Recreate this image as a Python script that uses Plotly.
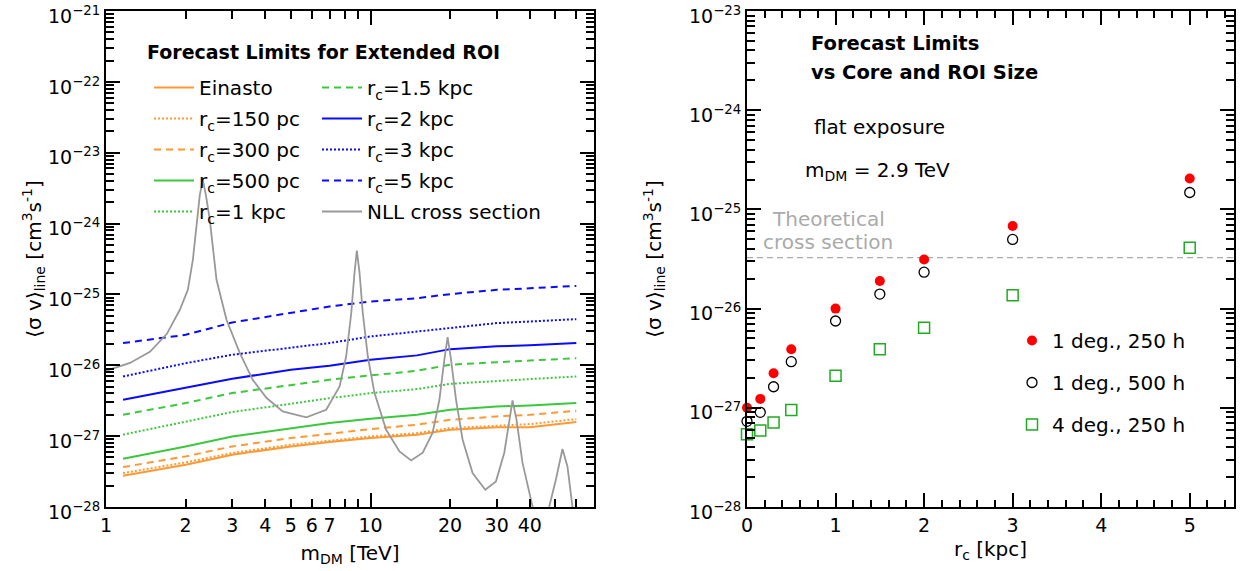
import plotly.graph_objects as go

# ---------------- left panel: forecast limits vs DM mass ----------------
m_dm = [1.16, 2, 3, 5, 7, 10, 15, 20, 30, 40, 60]

sv_einasto = [2.77e-28, 3.95e-28, 5.47e-28, 7.16e-28, 8.24e-28, 9.40e-28, 1.05e-27, 1.23e-27, 1.34e-27, 1.34e-27, 1.58e-27]
sv_rc150pc = [3.01e-28, 4.26e-28, 5.77e-28, 7.57e-28, 8.61e-28, 9.91e-28, 1.10e-27, 1.30e-27, 1.40e-27, 1.48e-27, 1.74e-27]
sv_rc300pc = [3.66e-28, 5.18e-28, 7.16e-28, 9.40e-28, 1.08e-27, 1.26e-27, 1.45e-27, 1.70e-27, 1.90e-27, 2.00e-27, 2.28e-27]
sv_rc500pc = [4.80e-28, 7.16e-28, 9.91e-28, 1.30e-27, 1.53e-27, 1.76e-27, 2.00e-27, 2.36e-27, 2.62e-27, 2.71e-27, 2.93e-27]
sv_rc1kpc = [1.05e-27, 1.58e-27, 2.19e-27, 2.86e-27, 3.44e-27, 4.05e-27, 4.61e-27, 5.48e-27, 6.04e-27, 6.38e-27, 6.95e-27]
sv_rc1p5kpc = [2.00e-27, 2.93e-27, 4.05e-27, 5.31e-27, 6.25e-27, 7.19e-27, 8.36e-27, 1.02e-26, 1.10e-26, 1.16e-26, 1.26e-26]
sv_rc2kpc = [3.26e-27, 4.76e-27, 6.45e-27, 8.65e-27, 9.84e-27, 1.20e-26, 1.38e-26, 1.69e-26, 1.85e-26, 1.91e-26, 2.06e-26]
sv_rc3kpc = [6.95e-27, 1.07e-26, 1.41e-26, 1.75e-26, 2.06e-26, 2.55e-26, 3.00e-26, 3.34e-26, 3.94e-26, 4.15e-26, 4.48e-26]
sv_rc5kpc = [2.06e-26, 2.69e-26, 4.02e-26, 5.44e-26, 6.76e-26, 7.94e-26, 8.85e-26, 1.01e-25, 1.16e-25, 1.22e-25, 1.32e-25]

# NLL (Sommerfeld-resonant) line cross section
m_nll = [1.0, 1.232, 1.466, 1.699, 1.902, 2.039, 2.130, 2.205, 2.263, 2.323, 2.385, 2.469,
         2.617, 2.855, 3.204, 3.587, 4.04, 4.655, 5.72, 6.80, 7.64, 8.09, 8.46, 8.70,
         8.88, 9.09, 9.35, 9.77, 10.35, 11.46, 12.87, 14.24, 15.76, 17.18, 18.22, 19.02,
         19.57, 20.16, 21.06, 22.30, 24.32, 27.16, 29.81, 32.05, 33.46, 34.43, 35.66, 37.55,
         40.98, 43.8, 47.38, 50.21, 53.19, 55.54, 58.0, 60.4]
sv_nll = [8.36e-27, 1.08e-26, 1.55e-26, 2.78e-26, 6.07e-26, 1.16e-25, 3.08e-25, 9.6e-25, 2.54e-24, 4.13e-24, 2.54e-24, 1.13e-24,
          1.61e-25, 4.38e-26, 1.50e-26, 6.24e-27, 3.48e-27, 2.23e-27, 1.84e-27, 2.36e-27, 5.02e-27, 1.33e-26, 5.51e-26, 2.02e-25,
          4.16e-25, 2.02e-25, 5.51e-26, 1.33e-26, 4.09e-27, 1.23e-27, 6.08e-28, 4.54e-28, 5.83e-28, 1.12e-27, 3.26e-27, 1.20e-26,
          2.50e-26, 1.20e-26, 3.26e-27, 8.9e-28, 3.02e-28, 1.75e-28, 2.30e-28, 5.83e-28, 1.70e-27, 3.19e-27, 1.70e-27, 4.22e-28,
          1.02e-28, 4.07e-29, 1.01e-28, 2.43e-28, 6.58e-28, 3.74e-28, 1.02e-28, 3.46e-29]

# ---------------- right panel: limits vs core radius ----------------
r_core = [0, 0.15, 0.3, 0.5, 1, 1.5, 2, 3, 5]
sv_1deg_250h = [1.0e-27, 1.23e-27, 2.23e-27, 3.9e-27, 1.0e-26, 1.9e-26, 3.13e-26, 6.8e-26, 2.05e-25]
sv_1deg_500h = [7.3e-28, 9.0e-28, 1.63e-27, 2.92e-27, 7.5e-27, 1.4e-26, 2.33e-26, 4.98e-26, 1.48e-25]
sv_4deg_250h = [5.4e-28, 5.9e-28, 7.1e-28, 9.5e-28, 2.1e-27, 3.9e-27, 6.4e-27, 1.36e-26, 4.1e-26]
sv_theory = 3.26e-26
r_range = [0, 5.5]

# axis tick labels
mass_ticks = [1, 2, 3, 4, 5, 6, 7, 8, 9, 10, 20, 30, 40, 50, 60]
mass_labels = ["1", "2", "3", "4", "5", "6", "7", "", "", "10", "20", "30", "40", "", ""]
left_decades = list(range(-28, -20))
right_decades = list(range(-28, -22))

ORANGE = "#ff9933"
GREEN = "#3cc83c"
BLUE = "#0a0aff"
GREY = "#999999"
FONT = "DejaVu Sans, Liberation Sans, Arial, sans-serif"

fig = go.Figure()

left_series = [
    ("Einasto", sv_einasto, ORANGE, "solid", "legend", 1),
    ("r<sub>c</sub>=150 pc", sv_rc150pc, ORANGE, "2px,2px", "legend", 2),
    ("r<sub>c</sub>=300 pc", sv_rc300pc, ORANGE, "7px,5px", "legend", 3),
    ("r<sub>c</sub>=500 pc", sv_rc500pc, GREEN, "solid", "legend", 4),
    ("r<sub>c</sub>=1 kpc", sv_rc1kpc, GREEN, "2px,2px", "legend", 5),
    ("r<sub>c</sub>=1.5 kpc", sv_rc1p5kpc, GREEN, "7px,5px", "legend2", 1),
    ("r<sub>c</sub>=2 kpc", sv_rc2kpc, BLUE, "solid", "legend2", 2),
    ("r<sub>c</sub>=3 kpc", sv_rc3kpc, BLUE, "2px,2px", "legend2", 3),
    ("r<sub>c</sub>=5 kpc", sv_rc5kpc, BLUE, "7px,5px", "legend2", 4),
]
for i, (name, vals, col, dash, leg, rank) in enumerate(left_series):
    fig.add_trace(go.Scatter(
        x=m_dm, y=vals, mode="lines", name=name,
        line=dict(color=col, width=2, dash=dash),
        xaxis="x", yaxis="y", legend=leg, legendgroup=f"g{i}", legendrank=rank,
    ))

fig.add_trace(go.Scatter(
    x=m_nll, y=sv_nll, mode="lines", name="NLL cross section",
    line=dict(color=GREY, width=1.8),
    xaxis="x", yaxis="y", legend="legend2", legendgroup="gnll", legendrank=5,
))

# theoretical cross section reference line
fig.add_trace(go.Scatter(
    x=r_range, y=[sv_theory, sv_theory], mode="lines", showlegend=False,
    line=dict(color="#aaaaaa", width=1.3, dash="6px,4px"),
    xaxis="x2", yaxis="y2",
))

right_series = [
    ("1 deg., 250 h", sv_1deg_250h, dict(symbol="circle", size=10, color="#ff0000")),
    ("1 deg., 500 h", sv_1deg_500h, dict(symbol="circle-open", size=10, color="black", line=dict(width=1.3))),
    ("4 deg., 250 h", sv_4deg_250h, dict(symbol="square-open", size=11, color="#22aa22", line=dict(width=1.5))),
]
for i, (name, vals, mk) in enumerate(right_series):
    fig.add_trace(go.Scatter(
        x=r_core, y=vals, mode="markers", name=name, marker=mk,
        cliponaxis=False, xaxis="x2", yaxis="y2",
        legend="legend3", legendgroup=f"r{i}",
    ))

W, H = 1244, 571
xl0, xl1 = 106 / W, 594 / W
xr0, xr1 = 747 / W, 1234 / W
yb, yt = (H - 507) / H, (H - 11) / H

axis_common = dict(
    showline=True, linecolor="black", linewidth=2, mirror="allticks",
    ticks="inside", tickcolor="black", tickwidth=1.5,
    showgrid=False, zeroline=False, automargin=False, ticklabeloverflow="allow",
    tickfont=dict(family=FONT, size=19, color="black"),
)


def log_minor(lo, hi):
    return [k * 10.0 ** e for e in range(lo, hi) for k in range(2, 10)]


def decade_axis(decades):
    return dict(
        tickmode="array",
        tickvals=[10.0 ** e for e in decades],
        ticktext=[f"10<sup>\u2212{-e}</sup>" for e in decades],
        ticklabelshift=5,
        minor=dict(tickmode="array", tickvals=log_minor(decades[0], decades[-1]),
                   ticks="inside", ticklen=8, tickwidth=1.5, tickcolor="black",
                   showgrid=False),
    )


ytitle = "\u27e8\u03c3 v\u27e9<sub>line</sub> [cm<sup>3</sup>s<sup>-1</sup>]"

fig.update_layout(
    width=W, height=H,
    margin=dict(l=0, r=0, t=0, b=0),
    paper_bgcolor="white", plot_bgcolor="white",
    font=dict(family=FONT, size=20, color="black"),
    xaxis=dict(
        axis_common, type="log", domain=[xl0, xl1], range=[0, 1.845], anchor="y",
        tickmode="array", tickvals=mass_ticks, ticktext=mass_labels, ticklen=8,
        minor=dict(tickmode="array", tickvals=[1, 10], ticks="inside", ticklen=14,
                   tickwidth=1.5, tickcolor="black", showgrid=False),
        title=dict(text="m<sub>DM</sub> [TeV]", font=dict(size=20), standoff=11),
    ),
    yaxis=dict(
        axis_common, type="log", domain=[yb, yt], range=[-28, -20.9999], anchor="x",
        ticklen=14, **decade_axis(left_decades),
        title=dict(text=ytitle, font=dict(size=20), standoff=1),
    ),
    xaxis2=dict(
        axis_common, domain=[xr0, xr1], range=r_range, anchor="y2",
        dtick=1, tick0=0, ticklen=14,
        minor=dict(dtick=0.2, ticks="inside", ticklen=7, tickwidth=1.5,
                   tickcolor="black", showgrid=False),
        title=dict(text="r<sub>c</sub> [kpc]", font=dict(size=20), standoff=7),
    ),
    yaxis2=dict(
        axis_common, type="log", domain=[yb, yt], range=[-28, -22.9999], anchor="x2",
        ticklen=14, **decade_axis(right_decades),
        title=dict(text=ytitle, font=dict(size=20), standoff=22),
    ),
    legend=dict(
        x=149 / W, y=1 - 68 / H, xanchor="left", yanchor="top",
        bgcolor="rgba(0,0,0,0)", font=dict(size=20), tracegroupgap=2, itemwidth=40,
    ),
    legend2=dict(
        x=317 / W, y=1 - 68 / H, xanchor="left", yanchor="top",
        bgcolor="rgba(0,0,0,0)", font=dict(size=20), tracegroupgap=2, itemwidth=40,
    ),
    legend3=dict(
        x=1012 / W, y=1 - 321 / H, xanchor="left", yanchor="top",
        bgcolor="rgba(0,0,0,0)", font=dict(size=20), tracegroupgap=13,
    ),
    showlegend=True,
)

notes = [
    ("<b>Forecast Limits for Extended ROI</b>", 145, 52, "black", 19, "left"),
    ("<b>Forecast Limits</b>", 809, 44, "black", 19.5, "left"),
    ("<b>vs Core and ROI Size</b>", 809, 72, "black", 19.5, "left"),
    ("flat exposure", 812, 127, "black", 20, "left"),
    ("m<sub>DM</sub> = 2.9 TeV", 803, 171, "black", 20, "left"),
    ("Theoretical", 828, 219, "#aaaaaa", 20, "center"),
    ("cross section", 828, 242, "#aaaaaa", 20, "center"),
]
for text, px, py, col, size, anchor in notes:
    fig.add_annotation(text=text, xref="paper", yref="paper", x=px / W, y=1 - py / H,
                       xanchor=anchor, yanchor="middle", showarrow=False,
                       font=dict(size=size, color=col, family=FONT))

fig.write_html("out.html")
